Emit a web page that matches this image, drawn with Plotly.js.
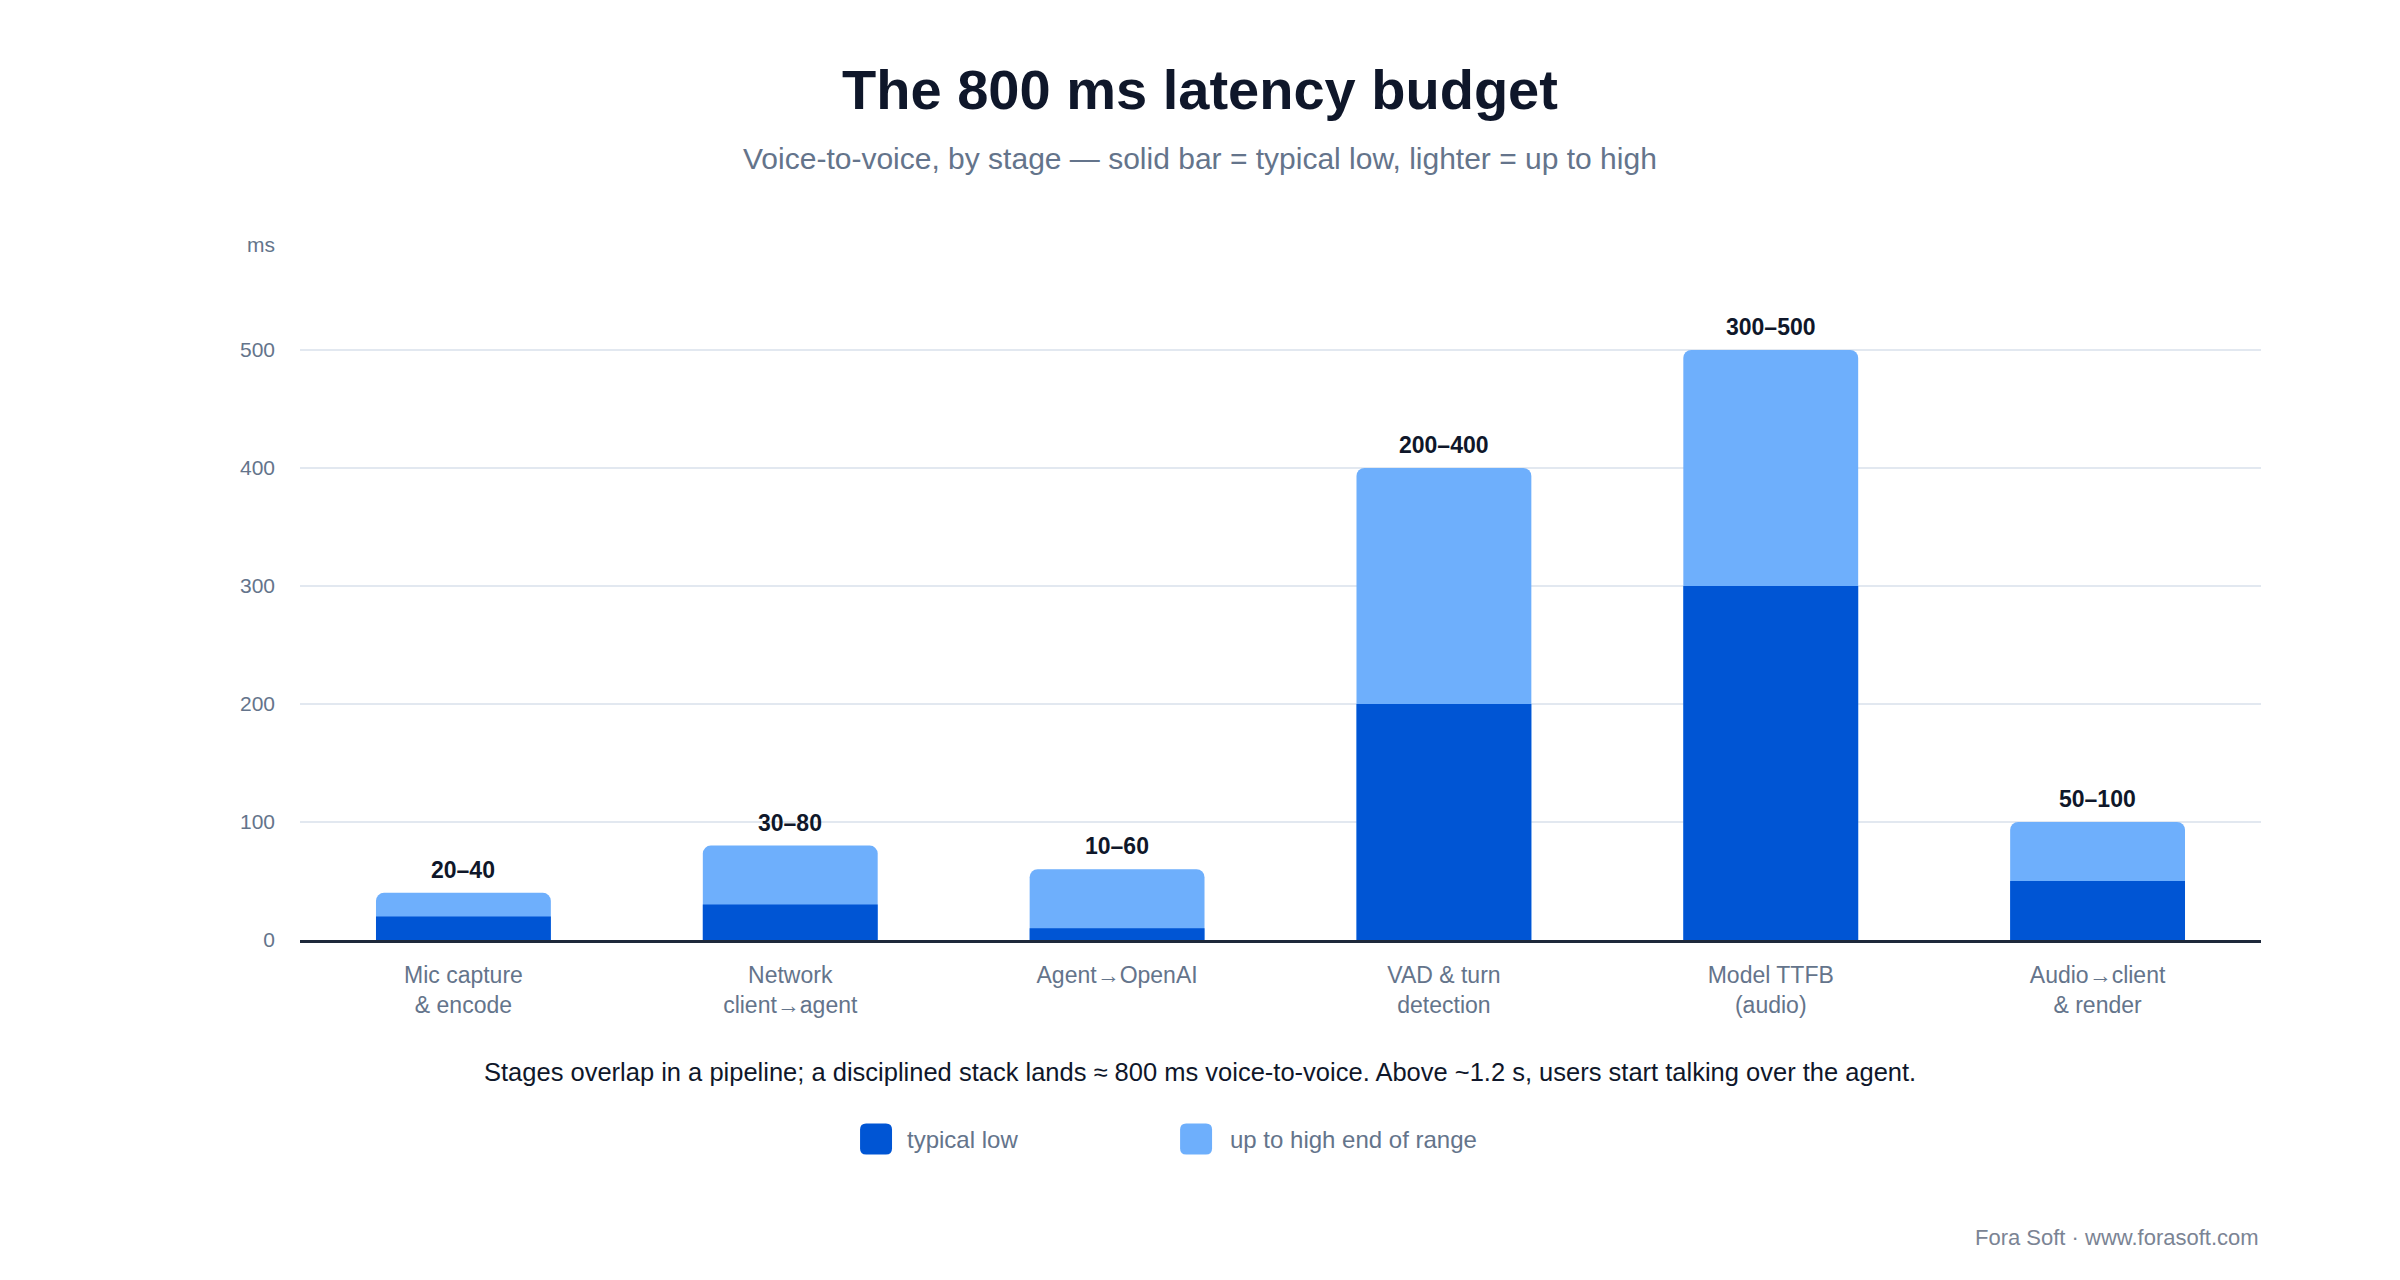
<!DOCTYPE html>
<html>
<head>
<meta charset="utf-8">
<script src="https://cdn.plot.ly/plotly-3.0.1.min.js"></script>
<style>
  html, body { margin: 0; padding: 0; background: #ffffff; }
  #chart { width: 2400px; height: 1280px; }
</style>
</head>
<body>
<div id="chart"></div>
<script>
// stages of the voice-to-voice pipeline
var stages = [
  'Mic capture<br>& encode',
  'Network<br>client→agent',
  'Agent→OpenAI',
  'VAD & turn<br>detection',
  'Model TTFB<br>(audio)',
  'Audio→client<br>& render'
];
var lowMs  = [20, 30, 10, 200, 300, 50];    // typical low
var highMs = [40, 80, 60, 400, 500, 100];   // high end of range
var yTicks = [0, 100, 200, 300, 400, 500];

var darkBlue  = '#0055d4';
var lightBlue = '#6eaffc';
var slate = '#64748b';
var ink   = '#0f172a';
var font  = 'Liberation Sans, Arial, sans-serif';

// light bar goes all the way to the high value, dark one sits on top of it
var highTrace = {
  type: 'bar',
  name: 'up to high end of range',
  x: stages,
  y: highMs,
  marker: { color: lightBlue, cornerradius: 8 },
  hoverinfo: 'skip'
};
var lowTrace = {
  type: 'bar',
  name: 'typical low',
  x: stages,
  y: lowMs,
  marker: { color: darkBlue, cornerradius: 8 },
  hoverinfo: 'skip'
};

// "low–high" labels above each bar
var annotations = stages.map(function (s, i) {
  return {
    x: s, y: highMs[i], xref: 'x', yref: 'y',
    text: '<b>' + lowMs[i] + '–' + highMs[i] + '</b>',
    showarrow: false, yanchor: 'bottom', yshift: 8,
    font: { family: font, size: 23, color: ink }
  };
});

// paper x of the page centre (plot area is 300..2261 px)
var midX = 0.459;
var legY = -0.2812;

annotations.push(
  { xref: 'paper', yref: 'paper', x: midX, y: 1.1045, text: 'Voice-to-voice, by stage — solid bar = typical low, lighter = up to high',
    showarrow: false, xanchor: 'center', yanchor: 'middle', font: { family: font, size: 30, color: slate } },
  { xref: 'paper', yref: 'paper', x: 0, xshift: -23, y: 0.982, text: 'ms',
    showarrow: false, xanchor: 'right', yanchor: 'middle', font: { family: font, size: 21, color: slate } },
  { xref: 'paper', yref: 'paper', x: midX, y: -0.1864,
    text: 'Stages overlap in a pipeline; a disciplined stack lands ≈ 800 ms voice-to-voice. Above ~1.2 s, users start talking over the agent.',
    showarrow: false, xanchor: 'center', yanchor: 'middle', font: { family: font, size: 25.5, color: ink } },
  { xref: 'paper', yref: 'paper', x: 0.3087, y: legY, text: 'typical low',
    showarrow: false, xanchor: 'left', yanchor: 'middle', font: { family: font, size: 24, color: slate } },
  { xref: 'paper', yref: 'paper', x: 0.4733, y: legY, text: 'up to high end of range',
    showarrow: false, xanchor: 'left', yanchor: 'middle', font: { family: font, size: 24, color: slate } },
  { xref: 'paper', yref: 'paper', x: 1, y: -0.4195, text: 'Fora Soft · www.forasoft.com',
    showarrow: false, xanchor: 'right', yanchor: 'middle', font: { family: font, size: 22, color: '#7b8494' } }
);

// legend swatches drawn by hand (rounded squares), the built-in ones are too small
function swatch(x0, color) {
  var x1 = x0 + 0.0163, y0 = legY - 0.0219, y1 = legY + 0.0219;
  var rx = 0.0031, ry = 0.0085;
  var p = 'M' + (x0 + rx) + ',' + y0 +
    ' L' + (x1 - rx) + ',' + y0 + ' Q' + x1 + ',' + y0 + ' ' + x1 + ',' + (y0 + ry) +
    ' L' + x1 + ',' + (y1 - ry) + ' Q' + x1 + ',' + y1 + ' ' + (x1 - rx) + ',' + y1 +
    ' L' + (x0 + rx) + ',' + y1 + ' Q' + x0 + ',' + y1 + ' ' + x0 + ',' + (y1 - ry) +
    ' L' + x0 + ',' + (y0 + ry) + ' Q' + x0 + ',' + y0 + ' ' + (x0 + rx) + ',' + y0 + ' Z';
  return { type: 'path', xref: 'paper', yref: 'paper', path: p, fillcolor: color, line: { width: 0 } };
}

var layout = {
  width: 2400,
  height: 1280,
  paper_bgcolor: '#ffffff',
  plot_bgcolor: '#ffffff',
  margin: { l: 300, r: 139, t: 232, b: 340 },
  title: {
    text: '<b>The 800 ms latency budget</b>',
    x: 0.5, xref: 'container', xanchor: 'center',
    y: 0.930, yanchor: 'middle',
    font: { family: font, size: 56, color: ink }
  },
  barmode: 'overlay',
  bargap: 0.465,
  showlegend: false,
  xaxis: {
    type: 'category',
    tickfont: { family: font, size: 23, color: slate },
    showline: true, linecolor: '#1e293b', linewidth: 3,
    ticks: '', ticklabelstandoff: 12,
    showgrid: false
  },
  yaxis: {
    range: [0, 600],
    tickvals: yTicks,
    tickfont: { family: font, size: 21, color: slate },
    gridcolor: '#e2e8f0', gridwidth: 2,
    zeroline: false,
    ticks: '', ticklabelstandoff: 24
  },
  annotations: annotations,
  shapes: [swatch(0.2856, darkBlue), swatch(0.4488, lightBlue)]
};

Plotly.newPlot('chart', [highTrace, lowTrace], layout, { staticPlot: true, displayModeBar: false });
</script>
</body>
</html>
